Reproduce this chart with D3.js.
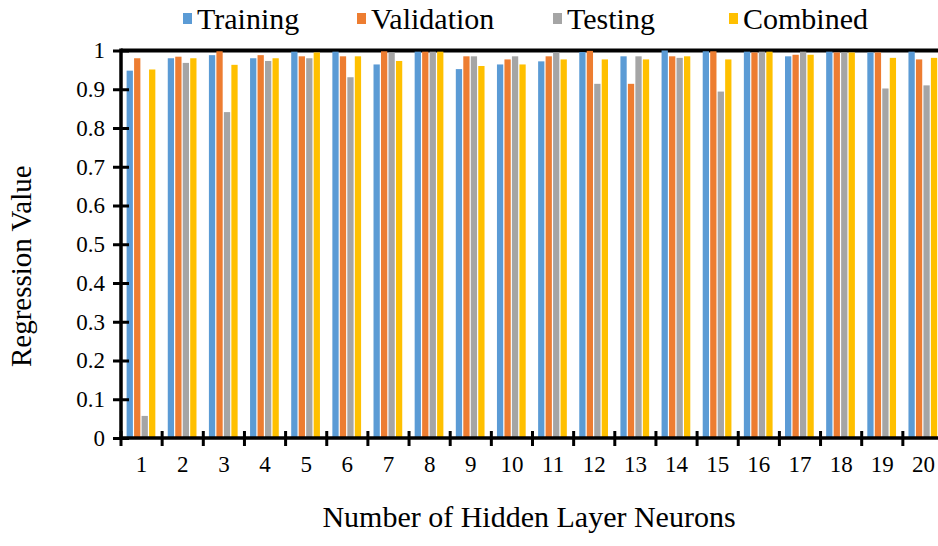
<!DOCTYPE html>
<html>
<head>
<meta charset="utf-8">
<script src="https://cdn.jsdelivr.net/npm/d3@7"></script>
<style>
  html, body { margin: 0; padding: 0; background: #ffffff; }
  svg { display: block; }
</style>
</head>
<body>
<svg id="chart" width="938" height="546" font-family="Liberation Serif"></svg>
<script>
// Neuron counts on the x axis
const neurons = ["1","2","3","4","5","6","7","8","9","10","11","12","13","14","15","16","17","18","19","20"];

// Regression values per data split
const training   = [0.948,0.980,0.988,0.980,0.997,0.997,0.964,0.997,0.952,0.964,0.972,0.996,0.985,1.000,0.998,0.997,0.985,0.997,0.995,0.997];
const validation = [0.980,0.984,0.998,0.988,0.985,0.985,0.998,0.997,0.985,0.977,0.985,0.999,0.914,0.985,0.998,0.995,0.989,0.995,0.995,0.977];
const testing    = [0.057,0.968,0.841,0.973,0.980,0.931,0.995,0.997,0.985,0.985,0.995,0.914,0.985,0.981,0.894,0.997,0.997,0.995,0.902,0.910];
const combined   = [0.951,0.980,0.963,0.980,0.995,0.985,0.973,0.997,0.960,0.964,0.977,0.977,0.977,0.985,0.977,0.997,0.989,0.995,0.981,0.981];

const seriesNames  = ["Training","Validation","Testing","Combined"];
const seriesColors = ["#5B9BD5","#ED7D31","#A5A5A5","#FFC000"];
const yTicks       = [0,0.1,0.2,0.3,0.4,0.5,0.6,0.7,0.8,0.9,1];
const yTickLabels  = ["0","0.1","0.2","0.3","0.4","0.5","0.6","0.7","0.8","0.9","1"];

const seriesValues = [training, validation, testing, combined];

const FONT = "Liberation Serif";
const svg = d3.select("#chart");
const plotLeft = 121, plotRight = 944, plotTop = 50.5, plotBottom = 438;

const x = d3.scaleBand().domain(neurons).range([plotLeft, plotRight]).padding(0);
const xs = d3.scaleBand().domain(seriesNames).range([0, x.bandwidth()])
  .paddingInner(0).paddingOuter(0.75);
const y = d3.scaleLinear().domain([0, 1]).range([plotBottom, plotTop]);

// Heavy rule at the top of the value range, behind the bars
svg.append("line")
  .attr("x1", plotLeft).attr("x2", 940)
  .attr("y1", y(1)).attr("y2", y(1))
  .attr("stroke", "#000").attr("stroke-width", 4);

// Bars
const rows = [];
neurons.forEach((n, i) => {
  seriesNames.forEach((s, j) => rows.push({ n, s, v: seriesValues[j][i], c: seriesColors[j] }));
});
svg.append("g").selectAll("rect").data(rows).join("rect")
  .attr("x", d => x(d.n) + xs(d.s))
  .attr("width", xs.bandwidth() - 1.2)
  .attr("y", d => y(d.v))
  .attr("height", d => y(0) - y(d.v))
  .attr("fill", d => d.c);

// Y axis with crossing tick marks
const yAxis = svg.append("g")
  .attr("transform", `translate(${plotLeft},0)`)
  .call(d3.axisLeft(y).tickValues(yTicks).tickFormat((d, i) => yTickLabels[i]).tickSize(8).tickPadding(8))
  .attr("font-family", FONT);
yAxis.select(".domain").attr("stroke", "#000").attr("stroke-width", 3.5)
  .attr("d", `M0,${plotBottom}V${plotTop - 2}`);
yAxis.selectAll(".tick line").attr("x1", -8).attr("x2", 8).attr("stroke", "#000").attr("stroke-width", 3);
yAxis.selectAll(".tick text").attr("font-size", 23);

// X axis: labels centred under each group, tick marks at group boundaries
const xAxis = svg.append("g")
  .attr("transform", `translate(0,${plotBottom})`)
  .call(d3.axisBottom(x).tickSize(0).tickPadding(18))
  .attr("font-family", FONT);
xAxis.select(".domain").attr("stroke", "#000").attr("stroke-width", 3.5)
  .attr("d", `M${plotLeft},0H940`);
xAxis.selectAll(".tick text").attr("font-size", 23);
const bounds = neurons.map(n => x(n)).concat([x(neurons[neurons.length - 1]) + x.step()]);
xAxis.append("g").selectAll("line").data(bounds).join("line")
  .attr("x1", d => d).attr("x2", d => d)
  .attr("y1", -7).attr("y2", 8)
  .attr("stroke", "#000").attr("stroke-width", 3);

// Axis titles
svg.append("text")
  .attr("transform", `translate(31,${(plotTop + plotBottom) / 2 + 22}) rotate(-90)`)
  .attr("text-anchor", "middle").attr("font-size", 29)
  .text("Regression Value");
svg.append("text")
  .attr("x", 529).attr("y", 527)
  .attr("text-anchor", "middle").attr("font-size", 30)
  .text("Number of Hidden Layer Neurons");

// Legend
const legendX = [183, 357, 553, 729];
const legend = svg.append("g");
seriesNames.forEach((s, i) => {
  const g = legend.append("g").attr("transform", `translate(${legendX[i]},0)`);
  g.append("rect").attr("x", 0).attr("y", 13).attr("width", 9).attr("height", 11).attr("fill", seriesColors[i]);
  g.append("text").attr("x", 14).attr("y", 29).attr("font-size", 30).text(s);
});

svg.selectAll("text")
  .attr("font-family", FONT)
  .style("font-family", `"${FONT}"`)
  .attr("fill", "#000");
</script>
</body>
</html>
